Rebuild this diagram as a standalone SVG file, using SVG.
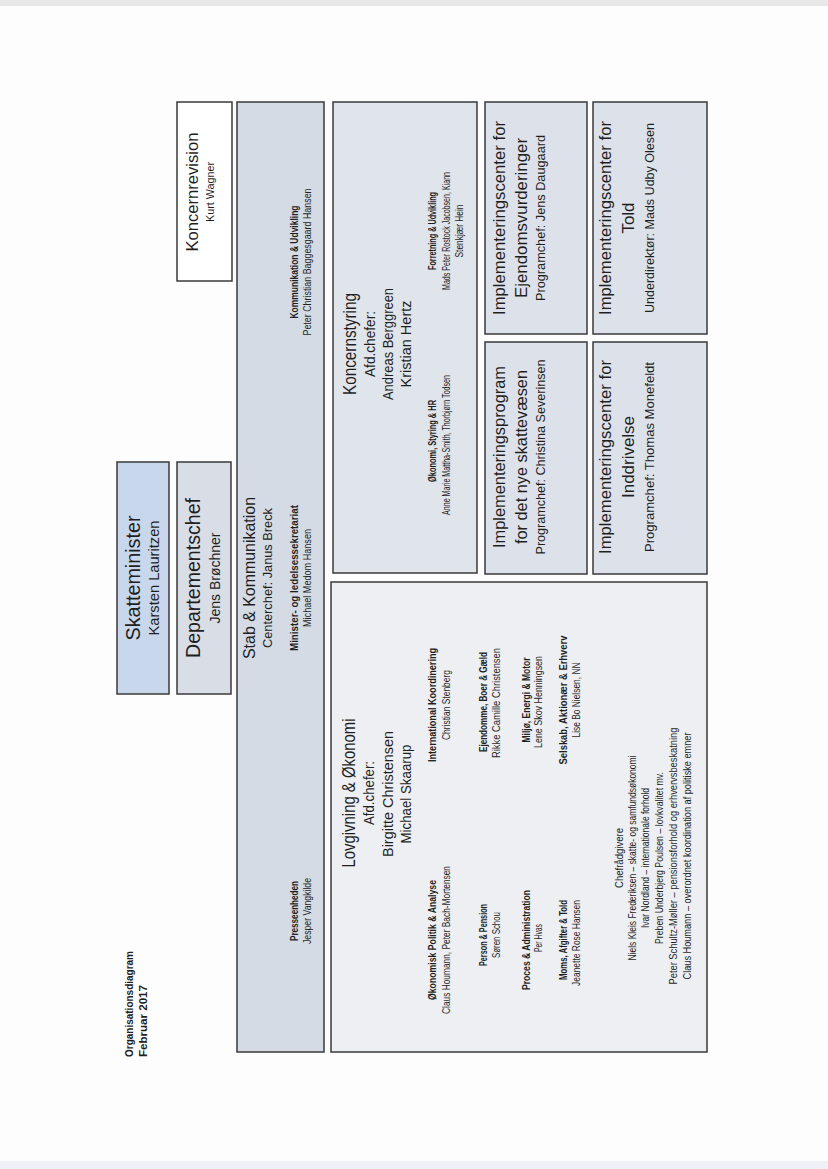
<svg xmlns="http://www.w3.org/2000/svg" width="828" height="1169" viewBox="0 0 828 1169">
<style>
.box{stroke:#3a3a3a;stroke-width:1.5}
.t{font-family:"Liberation Sans",Arial,sans-serif;fill:#1f1f1f;text-anchor:middle}
.s{text-anchor:start}
.b{font-weight:bold}
</style>
<rect x="0" y="0" width="828" height="1169" fill="#fdfdfd"/>
<rect x="0" y="0" width="828" height="6" fill="#e8e8e8"/>
<rect x="0" y="1161" width="828" height="8" fill="#eef1f6"/>
<g transform="translate(0,1169) rotate(-90)">
<g id="title">
<text class="t s b" x="112" y="133" font-size="11.5" textLength="106" lengthAdjust="spacingAndGlyphs">Organisationsdiagram</text>
<text class="t s b" x="112" y="147" font-size="11.5" textLength="72" lengthAdjust="spacingAndGlyphs">Februar 2017</text>
</g>
<g id="skatteminister">
<rect class="box" x="475" y="117" width="232" height="52" fill="#c8d7ec"/>
<text class="t" x="591" y="140" font-size="19.5" textLength="125" lengthAdjust="spacingAndGlyphs">Skatteminister</text>
<text class="t" x="591" y="159" font-size="15" textLength="115" lengthAdjust="spacingAndGlyphs">Karsten Lauritzen</text>
</g>
<g id="departementschef">
<rect class="box" x="475" y="177" width="232" height="54" fill="#d8dde6"/>
<text class="t" x="591" y="200" font-size="19.5" textLength="160" lengthAdjust="spacingAndGlyphs">Departementschef</text>
<text class="t" x="591" y="220" font-size="15" textLength="91" lengthAdjust="spacingAndGlyphs">Jens Brøchner</text>
</g>
<g id="koncernrevision">
<rect class="box" x="888" y="177" width="179" height="55" fill="#ffffff"/>
<text class="t" x="977" y="198" font-size="16.5" textLength="119" lengthAdjust="spacingAndGlyphs">Koncernrevision</text>
<text class="t" x="977" y="214" font-size="10.5" textLength="60" lengthAdjust="spacingAndGlyphs">Kurt Wagner</text>
</g>
<g id="stab-kommunikation">
<rect class="box" x="117" y="237" width="950" height="87" fill="#d5dbe4"/>
<text class="t" x="591" y="255" font-size="17" textLength="162" lengthAdjust="spacingAndGlyphs">Stab &amp; Kommunikation</text>
<text class="t" x="591" y="272" font-size="13.5" textLength="140" lengthAdjust="spacingAndGlyphs">Centerchef: Janus Breck</text>
<text class="t b" x="591" y="298" font-size="10.5" textLength="146" lengthAdjust="spacingAndGlyphs">Minister- og ledelsessekretariat</text>
<text class="t" x="591" y="311" font-size="10.5" textLength="98" lengthAdjust="spacingAndGlyphs">Michael Medom Hansen</text>
<text class="t b" x="258" y="298" font-size="10.5" textLength="60" lengthAdjust="spacingAndGlyphs">Presseenheden</text>
<text class="t" x="258" y="311" font-size="10.5" textLength="66" lengthAdjust="spacingAndGlyphs">Jesper Vangkilde</text>
<text class="t b" x="907" y="298" font-size="10.5" textLength="113" lengthAdjust="spacingAndGlyphs">Kommunikation &amp; Udvikling</text>
<text class="t" x="907" y="311" font-size="10.5" textLength="147" lengthAdjust="spacingAndGlyphs">Peter Christian Baggesgaard Hansen</text>
</g>
<g id="koncernstyring">
<rect class="box" x="596" y="333" width="471" height="144" fill="#e0e4eb"/>
<text class="t" x="825" y="356" font-size="18.5" textLength="102" lengthAdjust="spacingAndGlyphs">Koncernstyring</text>
<text class="t" x="825" y="375" font-size="14.5" textLength="66" lengthAdjust="spacingAndGlyphs">Afd.chefer:</text>
<text class="t" x="825" y="393" font-size="14.5" textLength="112" lengthAdjust="spacingAndGlyphs">Andreas Berggreen</text>
<text class="t" x="825" y="411" font-size="14.5" textLength="87" lengthAdjust="spacingAndGlyphs">Kristian Hertz</text>
<text class="t b" x="728" y="436" font-size="10.5" textLength="82" lengthAdjust="spacingAndGlyphs">Økonomi, Styring &amp; HR</text>
<text class="t" x="724" y="450" font-size="10.5" textLength="140" lengthAdjust="spacingAndGlyphs">Anne Marie Mattha-Smith, Thorbjørn Todsen</text>
<text class="t b" x="938" y="436" font-size="10.5" textLength="78" lengthAdjust="spacingAndGlyphs">Forretning &amp; Udvikling</text>
<text class="t" x="938" y="450" font-size="10.5" textLength="118" lengthAdjust="spacingAndGlyphs">Mads Peter Rostock Jacobsen, Kiann</text>
<text class="t" x="938" y="463" font-size="10.5" textLength="53" lengthAdjust="spacingAndGlyphs">Stenkjær Hein</text>
</g>
<g id="impl-ejendomsvurderinger">
<rect class="box" x="835" y="485" width="232" height="102" fill="#dde2ea"/>
<text class="t" x="951" y="505" font-size="17" textLength="194" lengthAdjust="spacingAndGlyphs">Implementeringscenter for</text>
<text class="t" x="951" y="527" font-size="17" textLength="160" lengthAdjust="spacingAndGlyphs">Ejendomsvurderinger</text>
<text class="t" x="951" y="545" font-size="13" textLength="166" lengthAdjust="spacingAndGlyphs">Programchef: Jens Daugaard</text>
</g>
<g id="impl-told">
<rect class="box" x="835" y="593" width="232" height="114" fill="#dde2ea"/>
<text class="t" x="951" y="611" font-size="17" textLength="194" lengthAdjust="spacingAndGlyphs">Implementeringscenter for</text>
<text class="t" x="951" y="634" font-size="17" textLength="31" lengthAdjust="spacingAndGlyphs">Told</text>
<text class="t" x="951" y="654" font-size="13" textLength="190" lengthAdjust="spacingAndGlyphs">Underdirektør: Mads Udby Olesen</text>
</g>
<g id="impl-skattevaesen">
<rect class="box" x="595" y="485" width="232" height="102" fill="#dde2ea"/>
<text class="t" x="712" y="505" font-size="17" textLength="182" lengthAdjust="spacingAndGlyphs">Implementeringsprogram</text>
<text class="t" x="712" y="527" font-size="17" textLength="174" lengthAdjust="spacingAndGlyphs">for det nye skattevæsen</text>
<text class="t" x="712" y="545" font-size="13" textLength="195" lengthAdjust="spacingAndGlyphs">Programchef: Christina Severinsen</text>
</g>
<g id="impl-inddrivelse">
<rect class="box" x="595" y="593" width="232" height="114" fill="#dde2ea"/>
<text class="t" x="712" y="611" font-size="17" textLength="194" lengthAdjust="spacingAndGlyphs">Implementeringscenter for</text>
<text class="t" x="712" y="634" font-size="17" textLength="82" lengthAdjust="spacingAndGlyphs">Inddrivelse</text>
<text class="t" x="712" y="654" font-size="13" textLength="190" lengthAdjust="spacingAndGlyphs">Programchef: Thomas Monefeldt</text>
</g>
<g id="lovgivning-oekonomi">
<rect class="box" x="117" y="331" width="470" height="376" fill="#edeff3"/>
<text class="t" x="376" y="355" font-size="18.5" textLength="149" lengthAdjust="spacingAndGlyphs">Lovgivning &amp; Økonomi</text>
<text class="t" x="376" y="374" font-size="14.5" textLength="64" lengthAdjust="spacingAndGlyphs">Afd.chefer:</text>
<text class="t" x="375" y="393" font-size="14.5" textLength="126" lengthAdjust="spacingAndGlyphs">Birgitte Christensen</text>
<text class="t" x="375" y="411" font-size="14.5" textLength="99" lengthAdjust="spacingAndGlyphs">Michael Skaarup</text>
<text class="t b" x="229" y="436" font-size="10.5" textLength="120" lengthAdjust="spacingAndGlyphs">Økonomisk Politik &amp; Analyse</text>
<text class="t" x="229" y="450" font-size="10.5" textLength="148" lengthAdjust="spacingAndGlyphs">Claus Houmann, Peter Bach-Mortensen</text>
<text class="t b" x="234" y="487" font-size="10.5" textLength="62" lengthAdjust="spacingAndGlyphs">Person &amp; Pension</text>
<text class="t" x="234" y="500" font-size="10.5" textLength="46" lengthAdjust="spacingAndGlyphs">Søren Schou</text>
<text class="t b" x="229" y="530" font-size="10.5" textLength="100" lengthAdjust="spacingAndGlyphs">Proces &amp; Administration</text>
<text class="t" x="231" y="542" font-size="10.5" textLength="28" lengthAdjust="spacingAndGlyphs">Per Hvas</text>
<text class="t b" x="229" y="567" font-size="10.5" textLength="80" lengthAdjust="spacingAndGlyphs">Moms, Afgifter &amp; Told</text>
<text class="t" x="226" y="580" font-size="10.5" textLength="86" lengthAdjust="spacingAndGlyphs">Jeanette Rose Hansen</text>
<text class="t b" x="464" y="436" font-size="10.5" textLength="114" lengthAdjust="spacingAndGlyphs">International Koordinering</text>
<text class="t" x="464" y="450" font-size="10.5" textLength="70" lengthAdjust="spacingAndGlyphs">Christian Stenberg</text>
<text class="t b" x="467" y="487" font-size="10.5" textLength="100" lengthAdjust="spacingAndGlyphs">Ejendomme, Boer &amp; Gæld</text>
<text class="t" x="466" y="500" font-size="10.5" textLength="110" lengthAdjust="spacingAndGlyphs">Rikke Camille Christensen</text>
<text class="t b" x="469" y="530" font-size="10.5" textLength="85" lengthAdjust="spacingAndGlyphs">Miljø, Energi &amp; Motor</text>
<text class="t" x="467" y="542" font-size="10.5" textLength="92" lengthAdjust="spacingAndGlyphs">Lene Skov Henningsen</text>
<text class="t b" x="469" y="567" font-size="10.5" textLength="129" lengthAdjust="spacingAndGlyphs">Selskab, Aktionær &amp; Erhverv</text>
<text class="t" x="469" y="580" font-size="10.5" textLength="75" lengthAdjust="spacingAndGlyphs">Lise Bo Nielsen, NN</text>
<text class="t" x="311" y="623" font-size="11" textLength="60" lengthAdjust="spacingAndGlyphs">Chefrådgivere</text>
<text class="t" x="311" y="636" font-size="10" textLength="205" lengthAdjust="spacingAndGlyphs">Niels Kleis Frederiksen – skatte- og samfundsøkonomi</text>
<text class="t" x="311" y="649" font-size="10" textLength="140" lengthAdjust="spacingAndGlyphs">Ivar Nordland – internationale forhold</text>
<text class="t" x="311" y="663" font-size="10" textLength="172" lengthAdjust="spacingAndGlyphs">Preben Underbjerg Poulsen – lovkvalitet mv.</text>
<text class="t" x="313" y="677" font-size="10" textLength="257" lengthAdjust="spacingAndGlyphs">Peter Schultz-Møller – pensionsforhold og erhvervsbeskatning</text>
<text class="t" x="313" y="691" font-size="10" textLength="247" lengthAdjust="spacingAndGlyphs">Claus Houmann – overordnet koordination af politiske emner</text>
</g>
<g id="connectors"></g>
</g>
</svg>
